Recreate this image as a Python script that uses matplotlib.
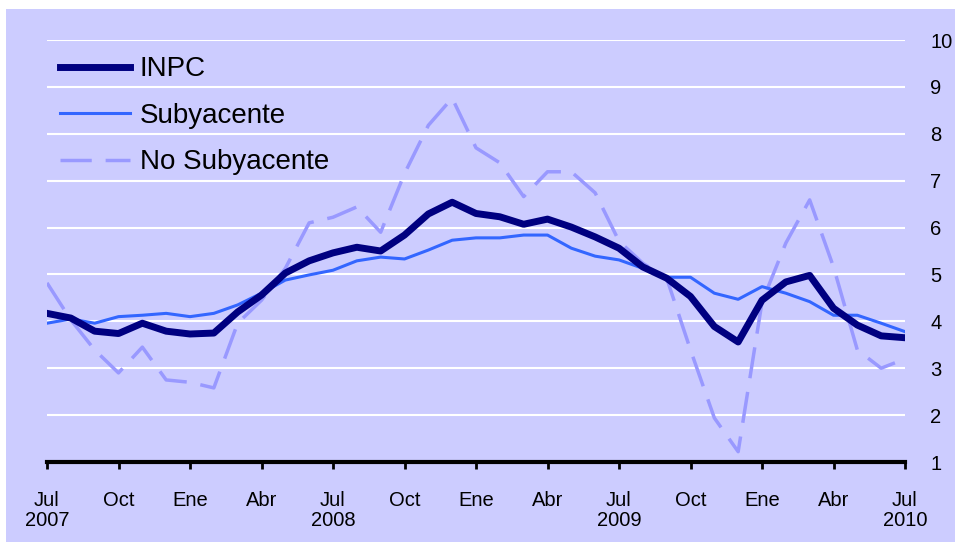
import matplotlib
matplotlib.use("Agg")
import matplotlib.pyplot as plt
from matplotlib.patches import Rectangle
import numpy as np

months = np.arange(37)  # Jul 2007 .. Jul 2010
inpc = [4.17, 4.07, 3.79, 3.74, 3.96, 3.79, 3.73, 3.75, 4.20, 4.56, 5.03, 5.29,
        5.46, 5.58, 5.50, 5.84, 6.29, 6.54, 6.30, 6.23, 6.07, 6.18, 6.01, 5.80,
        5.56, 5.16, 4.92, 4.53, 3.89, 3.56, 4.45, 4.84, 4.98, 4.28, 3.92, 3.69, 3.65]
subyacente = [3.96, 4.05, 3.96, 4.10, 4.13, 4.17, 4.10, 4.17, 4.35, 4.60, 4.88, 4.99,
              5.09, 5.29, 5.37, 5.33, 5.52, 5.73, 5.78, 5.78, 5.84, 5.84, 5.56, 5.39,
              5.31, 5.13, 4.94, 4.94, 4.60, 4.47, 4.74, 4.60, 4.42, 4.13, 4.13, 3.96, 3.78]
no_subyacente = [4.82, 4.03, 3.39, 2.90, 3.45, 2.75, 2.70, 2.58, 3.96, 4.45, 5.13, 6.10,
                 6.22, 6.44, 5.90, 7.15, 8.18, 8.76, 7.70, 7.38, 6.66, 7.19, 7.19, 6.74,
                 5.71, 5.24, 4.92, 3.39, 1.94, 1.22, 4.41, 5.67, 6.59, 5.16, 3.39, 3.00, 3.20]
tick_labels = ["Jul\n2007", "Oct", "Ene", "Abr", "Jul\n2008", "Oct", "Ene", "Abr",
               "Jul\n2009", "Oct", "Ene", "Abr", "Jul\n2010"]
yticks = list(range(1, 11))

plt.rcParams['font.family'] = ['Liberation Sans', 'DejaVu Sans']
bg = '#CCCCFF'
fig = plt.figure(figsize=(9.55, 5.48), dpi=100, facecolor='white')
fig.patches.append(Rectangle((6/955, 1-542/548), (955-6)/955, (542-9)/548,
                             transform=fig.transFigure, facecolor=bg, edgecolor='none', zorder=-10))
ax = fig.add_axes([47/955, 1-462/548, (905-47)/955, (462-40)/548])
ax.set_facecolor(bg)

ax.plot(months, no_subyacente, color='#9999FF', lw=2.5, dashes=(9, 4), label='No Subyacente', zorder=3)
ax.plot(months, subyacente, color='#3366FF', lw=2.2, label='Subyacente', zorder=4)
ax.plot(months, inpc, color='#000080', lw=5.0, label='INPC', zorder=5, solid_joinstyle='round')

ax.set_xlim(0, 36)
ax.set_ylim(1, 10)
ax.set_yticks(yticks)
ax.yaxis.tick_right()
ax.tick_params(axis='y', length=0, pad=18, labelsize=14.5)
for lbl in ax.get_yticklabels():
    lbl.set_horizontalalignment('left')
ax.set_xticks(np.arange(0, 37, 3))
ax.set_xticklabels(tick_labels, linespacing=1.05)
ax.tick_params(axis='x', length=5, width=2, direction='out', pad=16, labelsize=14.5, colors='black')
ax.grid(axis='y', color='white', lw=1.5)
ax.set_axisbelow(True)
for s in ['top', 'right', 'left']:
    ax.spines[s].set_visible(False)
ax.spines['bottom'].set_linewidth(3)
ax.spines['bottom'].set_zorder(6)

h, l = ax.get_legend_handles_labels()
order = [2, 1, 0]
leg = ax.legend([h[i] for i in order], [l[i] for i in order], loc='upper left',
                bbox_to_anchor=(52/955, 1-48/548), bbox_transform=fig.transFigure,
                frameon=False, fontsize=20, handlelength=2.5, handletextpad=0.36,
                labelspacing=0.74, borderaxespad=0, borderpad=0.3)

fig.savefig('out.png', dpi=100, facecolor='white')
